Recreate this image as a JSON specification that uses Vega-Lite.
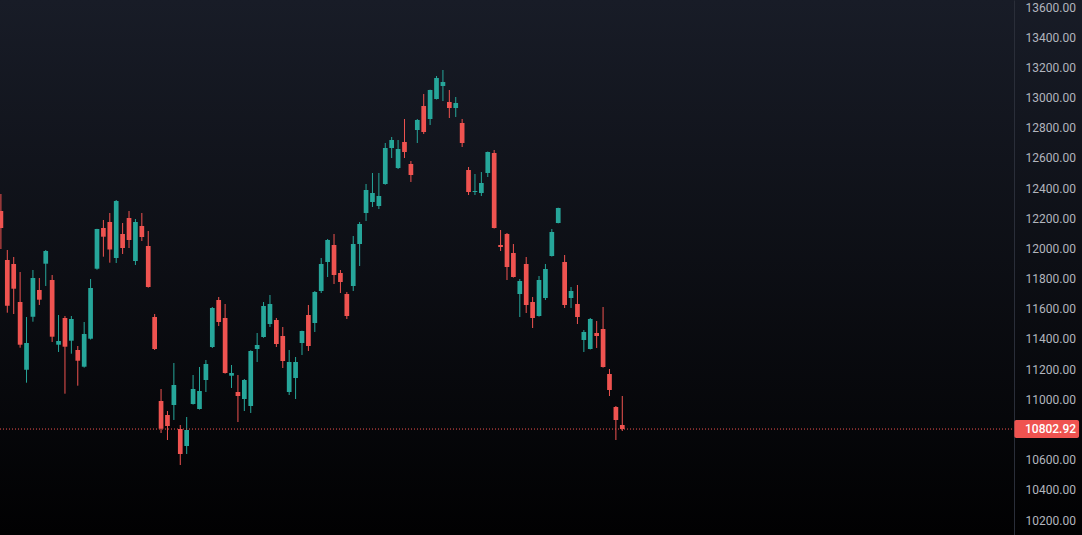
{
  "$schema": "https://vega.github.io/schema/vega-lite/v6.json",
  "width": 1082,
  "height": 535,
  "autosize": "none",
  "padding": 0,
  "background": "#000000",
  "config": {
    "view": {
      "stroke": null,
      "fill": {"gradient": "linear", "x1": 0, "y1": 0, "x2": 0, "y2": 1, "stops": [{"offset": 0, "color": "#181c27"}, {"offset": 1, "color": "#010102"}]}
    },
    "font": "Roboto",
    "axis": {"labelOverlap": false, "labelFlush": false, "labelBound": false}
  },
  "datasets": {
    "candles": [
      {"i":0,"o":12248.0,"h":12360.6,"l":11996.1,"c":12135.3},
      {"i":1,"o":11923.2,"h":11989.5,"l":11573.9,"c":11620.3},
      {"i":2,"o":11896.7,"h":11943.1,"l":11565.3,"c":11733.0},
      {"i":3,"o":11644.8,"h":11843.7,"l":11342.0,"c":11361.8},
      {"i":4,"o":11196.1,"h":11545.4,"l":11110.0,"c":11373.1},
      {"i":5,"o":11547.4,"h":11856.9,"l":11514.3,"c":11803.9},
      {"i":6,"o":11724.4,"h":11803.9,"l":11625.0,"c":11660.1},
      {"i":7,"o":11898.7,"h":11989.5,"l":11750.9,"c":11982.8},
      {"i":8,"o":11790.6,"h":11823.8,"l":11379.7,"c":11414.9},
      {"i":9,"o":11361.8,"h":11558.7,"l":11313.5,"c":11386.4},
      {"i":10,"o":11538.8,"h":11552.0,"l":11037.1,"c":11348.6},
      {"i":11,"o":11388.3,"h":11552.0,"l":11302.2,"c":11532.2},
      {"i":12,"o":11326.7,"h":11353.2,"l":11090.1,"c":11255.8},
      {"i":13,"o":11216.0,"h":11512.3,"l":11210.0,"c":11432.7},
      {"i":14,"o":11401.6,"h":11797.3,"l":11396.0,"c":11737.6},
      {"i":15,"o":11865.5,"h":12130.0,"l":11858.9,"c":12128.7},
      {"i":16,"o":12135.3,"h":12188.3,"l":11945.1,"c":12077.6},
      {"i":17,"o":12175.1,"h":12234.7,"l":11905.3,"c":11992.8},
      {"i":18,"o":11936.5,"h":12320.9,"l":11903.3,"c":12314.2},
      {"i":19,"o":12095.5,"h":12168.4,"l":11963.0,"c":12002.7},
      {"i":20,"o":12201.6,"h":12248.0,"l":12002.7,"c":12055.8},
      {"i":21,"o":11916.6,"h":12194.9,"l":11890.1,"c":12175.1},
      {"i":22,"o":12148.5,"h":12234.7,"l":12049.1,"c":12075.6},
      {"i":23,"o":12016.0,"h":12115.4,"l":11740.0,"c":11744.3},
      {"i":24,"o":11545.4,"h":11565.3,"l":11326.7,"c":11333.3},
      {"i":25,"o":10988.7,"h":11068.2,"l":10776.6,"c":10805.1},
      {"i":26,"o":10895.9,"h":10922.4,"l":10730.2,"c":10823.0},
      {"i":27,"o":10962.2,"h":11240.5,"l":10862.8,"c":11094.7},
      {"i":28,"o":10803.1,"h":10829.6,"l":10564.5,"c":10637.4},
      {"i":29,"o":10690.5,"h":10882.6,"l":10637.4,"c":10796.5},
      {"i":30,"o":10968.8,"h":11161.0,"l":10965.0,"c":11068.2},
      {"i":31,"o":10935.7,"h":11214.0,"l":10932.0,"c":11055.0},
      {"i":32,"o":11127.9,"h":11260.4,"l":11048.3,"c":11233.9},
      {"i":33,"o":11346.6,"h":11611.7,"l":11340.0,"c":11605.1},
      {"i":34,"o":11658.1,"h":11678.0,"l":11485.8,"c":11512.3},
      {"i":35,"o":11538.8,"h":11631.6,"l":11170.0,"c":11174.3},
      {"i":36,"o":11156.4,"h":11227.3,"l":11074.9,"c":11174.3},
      {"i":37,"o":11048.3,"h":11161.0,"l":10849.5,"c":11021.8},
      {"i":38,"o":11001.9,"h":11134.5,"l":10922.4,"c":11127.9},
      {"i":39,"o":10955.6,"h":11325.0,"l":10909.2,"c":11320.1},
      {"i":40,"o":11333.3,"h":11439.4,"l":11247.2,"c":11359.8},
      {"i":41,"o":11412.9,"h":11644.8,"l":11408.0,"c":11618.3},
      {"i":42,"o":11499.0,"h":11691.2,"l":11479.1,"c":11631.6},
      {"i":43,"o":11525.5,"h":11538.8,"l":11346.6,"c":11366.5},
      {"i":44,"o":11419.5,"h":11479.1,"l":11207.4,"c":11253.8},
      {"i":45,"o":11048.3,"h":11326.7,"l":11028.5,"c":11247.2},
      {"i":46,"o":11141.1,"h":11280.3,"l":11001.9,"c":11247.2},
      {"i":47,"o":11373.1,"h":11455.0,"l":11293.6,"c":11452.6},
      {"i":48,"o":11558.7,"h":11625.0,"l":11320.1,"c":11353.2},
      {"i":49,"o":11505.7,"h":11717.7,"l":11446.0,"c":11711.1},
      {"i":50,"o":11717.7,"h":11936.5,"l":11704.5,"c":11896.7},
      {"i":51,"o":11909.9,"h":12062.4,"l":11810.5,"c":12055.8},
      {"i":52,"o":12022.6,"h":12095.5,"l":11764.1,"c":11823.8},
      {"i":53,"o":11837.0,"h":11856.9,"l":11704.5,"c":11777.4},
      {"i":54,"o":11697.9,"h":11711.1,"l":11532.2,"c":11552.0},
      {"i":55,"o":11750.9,"h":12082.3,"l":11717.7,"c":12029.2},
      {"i":56,"o":12029.2,"h":12175.1,"l":11883.5,"c":12161.8},
      {"i":57,"o":12234.7,"h":12426.9,"l":12181.7,"c":12387.1},
      {"i":58,"o":12307.6,"h":12499.8,"l":12274.5,"c":12367.3},
      {"i":59,"o":12281.1,"h":12499.8,"l":12261.2,"c":12347.4},
      {"i":60,"o":12426.9,"h":12698.6,"l":12422.0,"c":12665.5},
      {"i":61,"o":12665.5,"h":12738.4,"l":12599.2,"c":12718.5},
      {"i":62,"o":12532.9,"h":12718.5,"l":12526.3,"c":12658.9},
      {"i":63,"o":12705.3,"h":12857.7,"l":12599.2,"c":12639.0},
      {"i":64,"o":12559.5,"h":12579.3,"l":12440.2,"c":12486.6},
      {"i":65,"o":12784.8,"h":12857.7,"l":12698.6,"c":12851.1},
      {"i":66,"o":12943.9,"h":13023.4,"l":12758.3,"c":12771.5},
      {"i":67,"o":12857.7,"h":13052.0,"l":12817.9,"c":13049.9},
      {"i":68,"o":12990.3,"h":13142.7,"l":12987.0,"c":13129.4},
      {"i":69,"o":13076.4,"h":13182.5,"l":12977.0,"c":13102.9},
      {"i":70,"o":12970.4,"h":13049.9,"l":12864.3,"c":12930.6},
      {"i":71,"o":12930.6,"h":13003.5,"l":12871.0,"c":12963.7},
      {"i":72,"o":12831.2,"h":12857.7,"l":12672.1,"c":12698.6},
      {"i":73,"o":12519.7,"h":12539.6,"l":12354.0,"c":12373.9},
      {"i":74,"o":12373.9,"h":12493.2,"l":12354.0,"c":12380.5},
      {"i":75,"o":12367.3,"h":12506.4,"l":12347.4,"c":12433.5},
      {"i":76,"o":12499.8,"h":12642.0,"l":12473.3,"c":12639.0},
      {"i":77,"o":12632.4,"h":12652.2,"l":12132.0,"c":12135.3},
      {"i":78,"o":12022.6,"h":12122.0,"l":11982.8,"c":12009.4},
      {"i":79,"o":12095.5,"h":12102.1,"l":11790.6,"c":11876.8},
      {"i":80,"o":11969.6,"h":12029.2,"l":11807.0,"c":11810.5},
      {"i":81,"o":11697.9,"h":11797.3,"l":11545.4,"c":11784.0},
      {"i":82,"o":11896.7,"h":11943.1,"l":11571.9,"c":11625.0},
      {"i":83,"o":11644.8,"h":11678.0,"l":11472.5,"c":11538.8},
      {"i":84,"o":11552.0,"h":11817.2,"l":11548.0,"c":11790.6},
      {"i":85,"o":11671.3,"h":11896.7,"l":11658.1,"c":11863.5},
      {"i":86,"o":11949.7,"h":12128.7,"l":11946.0,"c":12108.8},
      {"i":87,"o":12168.4,"h":12270.0,"l":12166.0,"c":12267.8},
      {"i":88,"o":11909.9,"h":11956.3,"l":11605.1,"c":11625.0},
      {"i":89,"o":11671.3,"h":11744.3,"l":11605.1,"c":11717.7},
      {"i":90,"o":11631.6,"h":11757.5,"l":11499.0,"c":11545.4},
      {"i":91,"o":11393.0,"h":11459.3,"l":11313.5,"c":11446.0},
      {"i":92,"o":11333.3,"h":11538.8,"l":11330.0,"c":11532.2},
      {"i":93,"o":11439.4,"h":11518.9,"l":11340.0,"c":11419.5},
      {"i":94,"o":11465.9,"h":11611.7,"l":11210.0,"c":11214.0},
      {"i":95,"o":11167.6,"h":11200.8,"l":11021.8,"c":11061.6},
      {"i":96,"o":10948.9,"h":10955.6,"l":10730.2,"c":10862.8},
      {"i":97,"o":10829.6,"h":11021.8,"l":10789.9,"c":10802.92}
    ],
    "last": [{"price": 10802.92, "label": "10802.92"}]
  },
  "layer": [
    {
      "data": {"name": "candles"},
      "mark": {"type": "rule", "strokeWidth": 1, "clip": true},
      "encoding": {
        "x": {"field": "i", "type": "quantitative", "scale": {"domain": [-0.1405, 168.76], "nice": false, "zero": false, "padding": 0}, "axis": null},
        "y": {"field": "l", "type": "quantitative", "scale": {"domain": [10100.6, 13646.4], "nice": false, "zero": false, "padding": 0},
          "axis": {"orient": "right", "offset": -68, "values": [10200,10400,10600,10800,11000,11200,11400,11600,11800,12000,12200,12400,12600,12800,13000,13200,13400,13600], "tickCount": 40, "format": ".2f", "title": null, "grid": false, "ticks": false, "domain": true, "domainColor": "#2a2e39", "domainWidth": 1, "labelColor": "#b2b5be", "labelFontSize": 12, "labelPadding": 11, "labelFlush": false, "labelOverlap": false, "labelFont": "Roboto"}},
        "y2": {"field": "h"},
        "color": {"condition": {"test": "datum.c >= datum.o", "value": "#26a69a"}, "value": "#ef5350"}
      }
    },
    {
      "data": {"name": "candles"},
      "mark": {"type": "bar", "size": 4.7, "clip": true},
      "encoding": {
        "x": {"field": "i", "type": "quantitative"},
        "y": {"field": "o", "type": "quantitative"},
        "y2": {"field": "c"},
        "color": {"condition": {"test": "datum.c >= datum.o", "value": "#26a69a"}, "value": "#ef5350"}
      }
    },
    {
      "data": {"name": "last"},
      "mark": {"type": "rule", "color": "#ef5350", "strokeWidth": 1, "strokeDash": [1, 2]},
      "encoding": {
        "x": {"datum": -0.1405, "type": "quantitative"},
        "x2": {"datum": 158.15},
        "y": {"field": "price", "type": "quantitative"}
      }
    },
    {
      "data": {"name": "last"},
      "mark": {"type": "bar", "orient": "horizontal", "size": 18, "color": "#ef5350", "cornerRadius": 2},
      "encoding": {
        "x": {"datum": 158.2, "type": "quantitative"},
        "x2": {"datum": 168.3},
        "y": {"field": "price", "type": "quantitative"}
      }
    },
    {
      "data": {"name": "last"},
      "mark": {"type": "text", "align": "left", "baseline": "middle", "color": "#ffffff", "fontSize": 12, "fontWeight": 500, "font": "Roboto"},
      "encoding": {
        "x": {"datum": 159.86, "type": "quantitative"},
        "y": {"field": "price", "type": "quantitative"},
        "text": {"field": "label"}
      }
    }
  ]
}
